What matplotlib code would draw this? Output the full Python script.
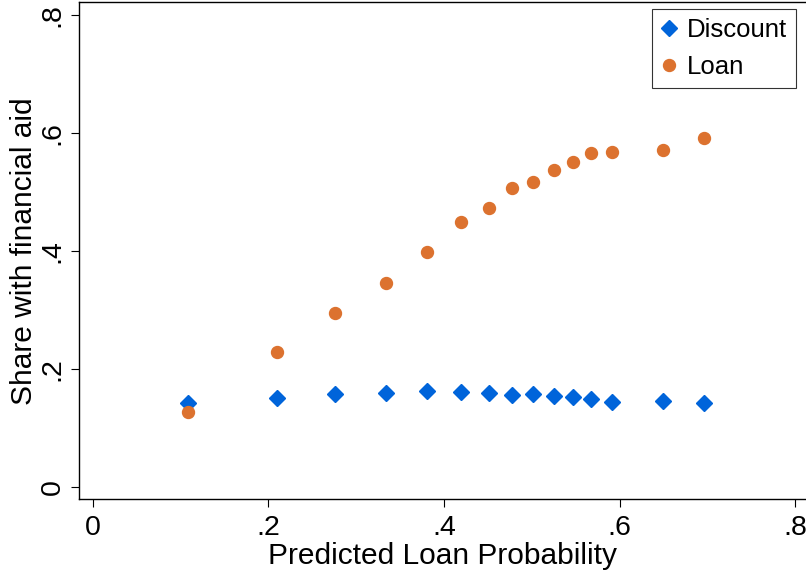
import matplotlib
matplotlib.use('Agg')
import matplotlib.pyplot as plt

plt.rcParams['font.family'] = ['Liberation Sans', 'DejaVu Sans']

# predicted loan probability (bin means)
pred_prob = [0.108, 0.210, 0.276, 0.334, 0.381, 0.420, 0.451, 0.478, 0.502,
             0.525, 0.547, 0.568, 0.592, 0.650, 0.696]
# share with discount
discount = [0.141, 0.150, 0.157, 0.159, 0.162, 0.161, 0.158, 0.155, 0.157,
            0.154, 0.152, 0.148, 0.144, 0.146, 0.142]
# share with loan
loan = [0.126, 0.228, 0.294, 0.346, 0.398, 0.448, 0.473, 0.506, 0.517,
        0.537, 0.551, 0.566, 0.568, 0.571, 0.591]

xticks = [0, 0.2, 0.4, 0.6, 0.8]
xticklabels = ['0', '.2', '.4', '.6', '.8']
yticks = [0, 0.2, 0.4, 0.6, 0.8]
yticklabels = ['0', '.2', '.4', '.6', '.8']

blue = '#0064da'
orange = '#dc722f'

fig = plt.figure(figsize=(8.06, 5.73), dpi=100)
ax = fig.add_axes([79.3/806, 73.7/573, (806-79.3)/806, (499.3-2.3)/573])

ax.plot(pred_prob, discount, linestyle='none', marker='D', ms=8.0,
        color=blue, label='Discount')
ax.plot(pred_prob, loan, linestyle='none', marker='o', ms=8.6,
        color=orange, label='Loan')

ax.set_xlim(-0.0153, 0.8124)
ax.set_ylim(-0.0214, 0.821)

ax.set_xticks(xticks)
ax.set_xticklabels(xticklabels)
ax.set_yticks(yticks)
ax.set_yticklabels(yticklabels, rotation=90, va='center')

ax.tick_params(axis='both', direction='out', length=6, width=0.8,
               labelsize=20.5, color='black')
ax.tick_params(axis='x', pad=5)
ax.tick_params(axis='y', pad=4)

for side in ['left', 'bottom', 'top']:
    ax.spines[side].set_linewidth(1.0)
    ax.spines[side].set_color('black')
ax.spines['right'].set_visible(False)

ax.set_xlabel('Predicted Loan Probability', fontsize=21.5, labelpad=1)
ax.set_ylabel('Share with financial aid', fontsize=21.5, labelpad=1)

leg = ax.legend(loc='upper right', bbox_to_anchor=(0.9863, 0.9859),
                borderaxespad=0, fontsize=18.5, frameon=True, fancybox=False,
                edgecolor='black', handlelength=0.6, handletextpad=0.4,
                labelspacing=0.5, borderpad=0.35)
leg.get_frame().set_linewidth(0.8)

plt.savefig('out.png', dpi=100)
plt.close()
